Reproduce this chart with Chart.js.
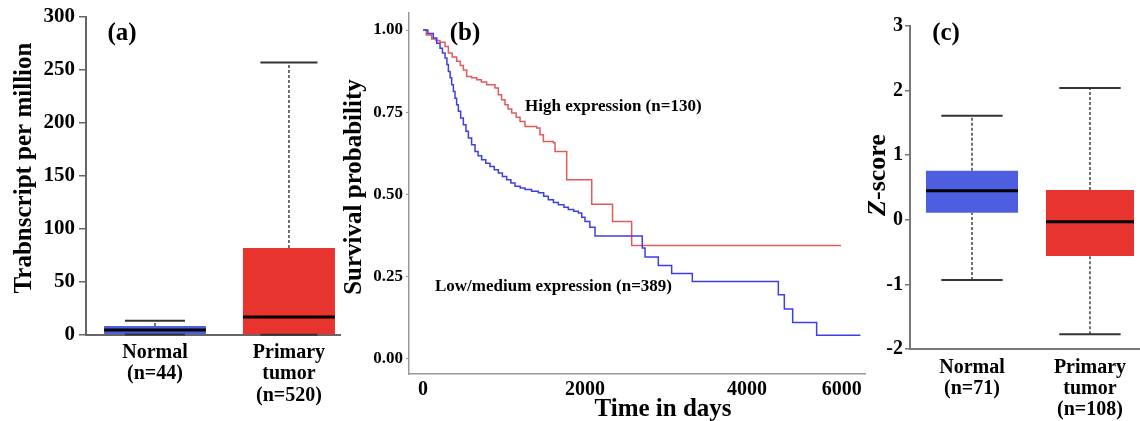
<!DOCTYPE html>
<html><head><meta charset="utf-8">
<script src="https://cdn.jsdelivr.net/npm/chart.js@4.4.1/dist/chart.umd.min.js"></script>
<style>
html,body{margin:0;padding:0;background:#fff;width:1140px;height:421px;overflow:hidden;}
canvas{position:absolute;top:0;}
</style></head><body>
<canvas id="ca" width="345" height="421" style="left:0px"></canvas>
<canvas id="cb" width="530" height="421" style="left:338px"></canvas>
<canvas id="cc" width="278" height="421" style="left:862px"></canvas>
<script>
// ---------- Panel (a): transcript per million ----------
const aCategories = [['Normal', '(n=44)'], ['Primary', 'tumor', '(n=520)']];
const aLow    = [0.5, 0.3];
const aQ1     = [1.0, 0.8];
const aMedian = [4.7, 17];
const aQ3     = [8.5, 82];
const aHigh   = [13.5, 257];
const aYTicks = [0, 50, 100, 150, 200, 250, 300];

// ---------- Panel (b): survival ----------
const highDays = [0, 40, 107, 160, 210, 272, 313, 360, 416, 460, 498, 539, 600, 663, 720, 786, 889, 930, 970, 1012, 1050, 1095, 1150, 1198, 1259, 1403, 1444, 1486, 1609, 1630, 1774, 2083, 2340, 2576, 5160];
const highSurv = [1.0, 0.985, 0.973, 0.968, 0.963, 0.950, 0.930, 0.918, 0.905, 0.892, 0.879, 0.859, 0.855, 0.849, 0.842, 0.834, 0.824, 0.803, 0.788, 0.773, 0.760, 0.748, 0.735, 0.722, 0.707, 0.702, 0.682, 0.661, 0.657, 0.631, 0.545, 0.470, 0.418, 0.345, 0.345];
const lowDays = [0, 60, 127, 170, 210, 240, 272, 295, 313, 335, 354, 375, 395, 415, 436, 465, 498, 530, 560, 600, 642, 680, 724, 775, 827, 880, 930, 980, 1033, 1085, 1136, 1200, 1259, 1340, 1424, 1490, 1547, 1610, 1671, 1740, 1794, 1860, 1918, 1960, 2000, 2060, 2124, 2707, 2741, 2905, 3070, 3325, 4387, 4461, 4564, 4860, 5400];
const lowSurv = [1.0, 0.99, 0.976, 0.96, 0.945, 0.93, 0.915, 0.895, 0.874, 0.855, 0.834, 0.813, 0.793, 0.773, 0.753, 0.733, 0.712, 0.692, 0.672, 0.651, 0.631, 0.618, 0.606, 0.595, 0.585, 0.575, 0.565, 0.555, 0.545, 0.535, 0.525, 0.52, 0.515, 0.51, 0.505, 0.495, 0.484, 0.476, 0.469, 0.461, 0.454, 0.449, 0.444, 0.431, 0.418, 0.40, 0.374, 0.337, 0.310, 0.284, 0.260, 0.235, 0.195, 0.152, 0.111, 0.072, 0.072];
const bYTicks = [0, 0.25, 0.5, 0.75, 1.0];
const bXTicks = [0, 2000, 4000, 5170];
const bXTickLabels = ['0', '2000', '4000', '6000'];

// ---------- Panel (c): Z-score ----------
const cCategories = [['Normal', '(n=71)'], ['Primary', 'tumor', '(n=108)']];
const cLow    = [-0.93, -1.77];
const cQ1     = [0.11, -0.56];
const cMedian = [0.45, -0.03];
const cQ3     = [0.76, 0.46];
const cHigh   = [1.61, 2.04];
const cYTicks = [-2, -1, 0, 1, 2, 3];

// ---------- styles ----------
const SERIF = '"Liberation Serif", "Times New Roman", serif';
const BLUE_BOX = '#4d5fe0';
const RED_BOX = '#e8342f';

function textPlugin(items) {
  return {
    id: 'panelText',
    afterDraw(chart) {
      const ctx = chart.ctx;
      items.forEach(it => {
        ctx.save();
        ctx.translate(it.x, it.y);
        if (it.rotate) ctx.rotate(it.rotate);
        ctx.textBaseline = 'middle';
        ctx.textAlign = 'left';
        ctx.fillStyle = '#000';
        const parts = it.parts || [{ text: it.text, font: it.font }];
        const widths = parts.map(p => { ctx.font = p.font; return ctx.measureText(p.text).width; });
        const total = widths.reduce((s, w) => s + w, 0);
        let x = it.align === 'left' ? 0 : -total / 2;
        parts.forEach((p, i) => { ctx.font = p.font; ctx.fillText(p.text, x, 0); x += widths[i]; });
        ctx.restore();
      });
    }
  };
}

function seg(points, color, width, dash, order) {
  return { type: 'line', data: points, borderColor: color, borderWidth: width, borderDash: dash || [],
           pointRadius: 0, fill: false, tension: 0, order: order, clip: false };
}

function boxDatasets(lo, q1, med, q3, hi, colors, boxFrac, capHalf) {
  const ds = [];
  lo.forEach((_, i) => {
    const c = i + 1;
    ds.push({ type: 'bar', data: [{ x: c, y: [q1[i], q3[i]] }], backgroundColor: colors[i], borderWidth: 0,
              barPercentage: boxFrac[i], categoryPercentage: 1, grouped: false, order: 3 });
    ds.push(seg([{ x: c, y: q3[i] }, { x: c, y: hi[i] }], '#444', 1.5, [3, 2], 2));
    ds.push(seg([{ x: c, y: lo[i] }, { x: c, y: q1[i] }], '#444', 1.5, [3, 2], 2));
    ds.push(seg([{ x: c - capHalf[i], y: hi[i] }, { x: c + capHalf[i], y: hi[i] }], '#333', 2, null, 1));
    ds.push(seg([{ x: c - capHalf[i], y: lo[i] }, { x: c + capHalf[i], y: lo[i] }], '#333', 2, null, 1));
    ds.push(seg([{ x: c - boxFrac[i] / 2, y: med[i] }, { x: c + boxFrac[i] / 2, y: med[i] }], '#000', 3, null, 0));
  });
  return ds;
}

function stepPoints(days, surv) {
  const pts = [{ x: days[0], y: surv[0] }];
  for (let i = 1; i < days.length; i++) {
    pts.push({ x: days[i], y: surv[i - 1] });
    pts.push({ x: days[i], y: surv[i] });
  }
  return pts;
}

const common = {
  animation: false, responsive: false, devicePixelRatio: 1,
  plugins: { legend: { display: false }, tooltip: { enabled: false } }
};

// ---------- Chart (a) ----------
new Chart(document.getElementById('ca'), {
  type: 'bar',
  data: { datasets: boxDatasets(aLow, aQ1, aMedian, aQ3, aHigh, [BLUE_BOX, RED_BOX], [0.76, 0.687], [0.224, 0.213]) },
  options: Object.assign({}, common, {
    layout: { padding: { left: 0, top: 17, right: 5, bottom: 0 } },
    scales: {
      x: {
        type: 'linear', min: 0.485, max: 2.381, offset: false,
        afterBuildTicks: s => { s.ticks = aCategories.map((_, i) => ({ value: i + 1 })); },
        ticks: { callback: (v, i) => aCategories[i], autoSkip: false, maxRotation: 0, padding: -1, color: '#000',
                 font: { family: SERIF, size: 20, weight: 'bold', lineHeight: 1.07 } },
        grid: { display: false, offset: false },
        border: { color: '#666', width: 2 },
        afterFit: s => { s.height = 86; }
      },
      y: {
        min: 0, max: 300,
        afterBuildTicks: s => { s.ticks = aYTicks.map(v => ({ value: v })); },
        ticks: { padding: 4, color: '#000', font: { family: SERIF, size: 21, weight: 'bold', lineHeight: 1 } },
        grid: { drawOnChartArea: false, tickLength: 7, color: '#666', lineWidth: 1.5 },
        border: { color: '#666', width: 2 },
        afterFit: s => { s.width = 86; }
      }
    }
  }),
  plugins: [textPlugin([
    { text: '(a)', font: 'bold 25px ' + SERIF, x: 122, y: 34 },
    { text: 'Trabnscript per million', font: 'bold 25px ' + SERIF, x: 25, y: 168, rotate: -Math.PI / 2 }
  ])]
});

// ---------- Chart (b) ----------
new Chart(document.getElementById('cb'), {
  type: 'line',
  data: { datasets: [
    { data: stepPoints(lowDays, lowSurv), borderColor: '#3f3fe0', borderWidth: 1.5, pointRadius: 0, fill: false, tension: 0 },
    { data: stepPoints(highDays, highSurv), borderColor: '#e25b5b', borderWidth: 1.5, pointRadius: 0, fill: false, tension: 0 }
  ] },
  options: Object.assign({}, common, {
    layout: { padding: { left: 0, top: 13, right: 3, bottom: 0 } },
    scales: {
      x: {
        type: 'linear', min: -173, max: 5457,
        afterBuildTicks: s => { s.ticks = bXTicks.map(v => ({ value: v })); },
        ticks: { callback: (v, i) => bXTickLabels[i], autoSkip: false, maxRotation: 0, padding: -2, color: '#000',
                 font: { family: SERIF, size: 20, weight: 'bold', lineHeight: 1 } },
        grid: { display: false },
        border: { color: '#999', width: 1.5 },
        afterFit: s => { s.height = 47; }
      },
      y: {
        type: 'linear', min: -0.046, max: 1.052,
        afterBuildTicks: s => { s.ticks = bYTicks.map(v => ({ value: v })); },
        ticks: { callback: v => v.toFixed(2), padding: 3, color: '#000',
                 font: { family: SERIF, size: 17, weight: 'bold', lineHeight: 1 } },
        grid: { drawOnChartArea: false, tickLength: 3, color: '#999' },
        border: { color: '#999', width: 1.5 },
        afterFit: s => { s.width = 71; }
      }
    }
  }),
  plugins: [textPlugin([
    { text: '(b)', font: 'bold 25px ' + SERIF, x: 127, y: 34 },
    { text: 'High expression (n=130)', font: 'bold 17px ' + SERIF, x: 187, y: 107, align: 'left' },
    { text: 'Low/medium expression (n=389)', font: 'bold 17px ' + SERIF, x: 97, y: 287, align: 'left' },
    { text: 'Time in days', font: 'bold 25px ' + SERIF, x: 325, y: 410 },
    { text: 'Survival probability', font: 'bold 25px ' + SERIF, x: 17, y: 187, rotate: -Math.PI / 2 }
  ])]
});

// ---------- Chart (c) ----------
new Chart(document.getElementById('cc'), {
  type: 'bar',
  data: { datasets: boxDatasets(cLow, cQ1, cMedian, cQ3, cHigh, [BLUE_BOX, RED_BOX], [0.78, 0.746], [0.26, 0.26]) },
  options: Object.assign({}, common, {
    layout: { padding: { left: 0, top: 26, right: 0, bottom: 0 } },
    scales: {
      x: {
        type: 'linear', min: 0.4746, max: 2.424, offset: false,
        afterBuildTicks: s => { s.ticks = cCategories.map((_, i) => ({ value: i + 1 })); },
        ticks: { callback: (v, i) => cCategories[i], autoSkip: false, maxRotation: 0, padding: 1, color: '#000',
                 font: { family: SERIF, size: 20, weight: 'bold', lineHeight: 1.03 } },
        grid: { display: false, offset: false },
        border: { color: '#777', width: 2 },
        afterFit: s => { s.height = 72; }
      },
      y: {
        min: -2, max: 3,
        afterBuildTicks: s => { s.ticks = cYTicks.map(v => ({ value: v })); },
        ticks: { padding: 2, color: '#000', font: { family: SERIF, size: 20, weight: 'bold', lineHeight: 1 } },
        grid: { drawOnChartArea: false, tickLength: 5, color: '#777', lineWidth: 1.5 },
        border: { color: '#777', width: 2 },
        afterFit: s => { s.width = 48; }
      }
    }
  }),
  plugins: [textPlugin([
    { text: '(c)', font: 'bold 25px ' + SERIF, x: 84, y: 34 },
    { parts: [{ text: 'Z', font: 'italic bold 26px ' + SERIF }, { text: '-score', font: 'bold 26px ' + SERIF }],
      x: 16, y: 175, rotate: -Math.PI / 2 }
  ])]
});
</script>
</body></html>
